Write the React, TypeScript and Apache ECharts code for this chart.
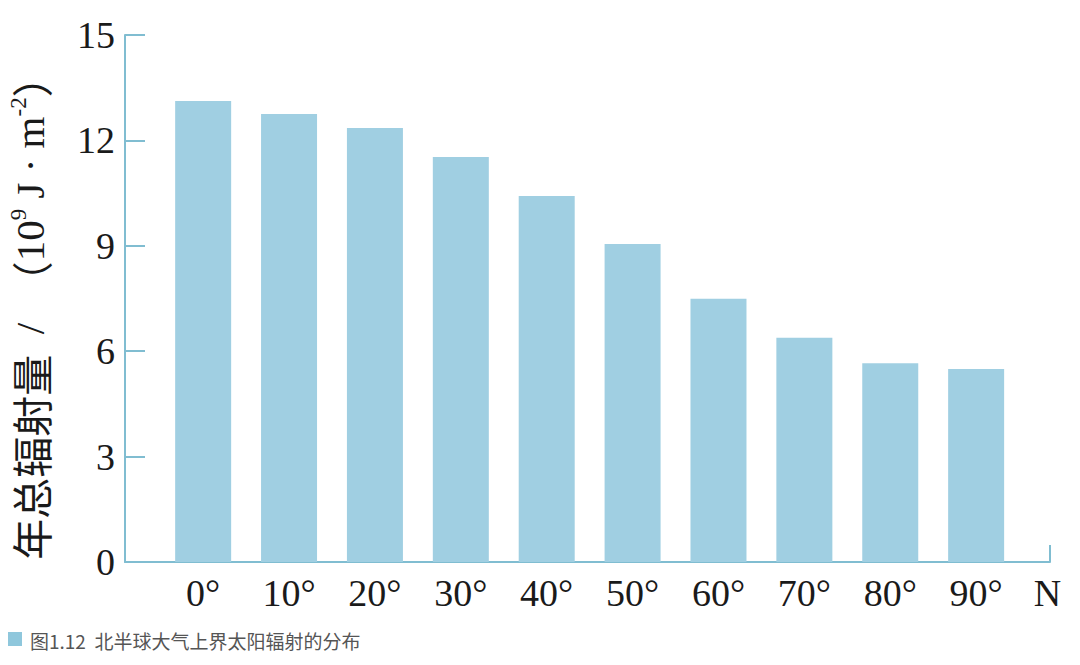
import React, { useEffect, useRef } from "react";
import * as echarts from "echarts";

const latitudes = [0, 10, 20, 30, 40, 50, 60, 70, 80, 90];
const radiation = [13.12, 12.75, 12.35, 11.53, 10.42, 9.05, 7.49, 6.38, 5.66, 5.49];
const yTicks = [0, 3, 6, 9, 12, 15];
const caption = "图1.12  北半球大气上界太阳辐射的分布";

const BAR = "#a0cfe2";
const AXIS = "#80bdd1";
const SERIF = "'Liberation Serif', 'DejaVu Serif', serif";
const CJK = "'Noto Sans CJK SC', sans-serif";

export default function App() {
  const ref = useRef<HTMLDivElement>(null);
  useEffect(() => {
    const chart = echarts.init(ref.current!, null, { renderer: "svg" });
    const xMin = -9.1;
    const xMax = 98.6;
    chart.setOption({
      animation: false,
      backgroundColor: "#ffffff",
      grid: { left: 125, right: 30, top: 35, bottom: 103, containLabel: false },
      xAxis: {
        type: "value",
        min: xMin,
        max: xMax,
        splitLine: { show: false },
        axisLine: { show: true, onZero: false, lineStyle: { color: AXIS, width: 2 } },
        axisTick: {
          show: true,
          inside: true,
          length: 17,
          customValues: [xMax],
          lineStyle: { color: AXIS, width: 2 },
        },
        axisLabel: {
          customValues: [...latitudes, 98.3],
          formatter: (v: number) => (v > 95 ? "N" : `${v}°`),
          fontFamily: SERIF,
          fontSize: 38,
          color: "#1a1a1a",
          margin: 12,
          showMaxLabel: true,
          showMinLabel: true,
          hideOverlap: false,
        },
      },
      yAxis: {
        type: "value",
        min: yTicks[0],
        max: yTicks[yTicks.length - 1],
        interval: 3,
        splitLine: { show: false },
        axisLine: { show: true, onZero: false, lineStyle: { color: AXIS, width: 2 } },
        axisTick: { show: true, inside: true, length: 20, lineStyle: { color: AXIS, width: 2 } },
        axisLabel: {
          fontFamily: SERIF,
          fontSize: 38,
          color: "#1a1a1a",
          margin: 10,
        },
      },
      series: [
        {
          type: "bar",
          data: latitudes.map((lat, i) => [lat, radiation[i]]),
          barWidth: 56,
          itemStyle: { color: BAR },
        },
      ],
      graphic: [
        {
          type: "text",
          x: 30,
          y: 308,
          rotation: Math.PI / 2,
          style: {
            text: "{cjk|年总辐射量}{n|  /  }{cjk|（}{n|10}{sup|9}{n| J · m}{sup|-2}{cjk|）}",
            align: "center",
            verticalAlign: "middle",
            fill: "#1a1a1a",
            rich: {
              cjk: { fontFamily: CJK, fontSize: 41, lineHeight: 46, fill: "#1a1a1a" },
              n: { fontFamily: SERIF, fontSize: 41, lineHeight: 46, fill: "#1a1a1a" },
              sup: {
                fontFamily: SERIF,
                fontSize: 23,
                lineHeight: 26,
                verticalAlign: "top",
                fill: "#1a1a1a",
              },
            },
          },
        },
        {
          type: "rect",
          shape: { x: 8, y: 632, width: 14, height: 14 },
          style: { fill: "#8fc7dc" },
        },
        {
          type: "text",
          x: 30,
          y: 640,
          style: {
            text: caption,
            fontFamily: CJK,
            fontSize: 19,
            fill: "#555555",
            verticalAlign: "middle",
          },
        },
      ],
    });
    return () => chart.dispose();
  }, []);
  return (
    <div
      ref={ref}
      style={{ position: "fixed", left: 0, top: 0, width: 1080, height: 665 }}
    />
  );
}
